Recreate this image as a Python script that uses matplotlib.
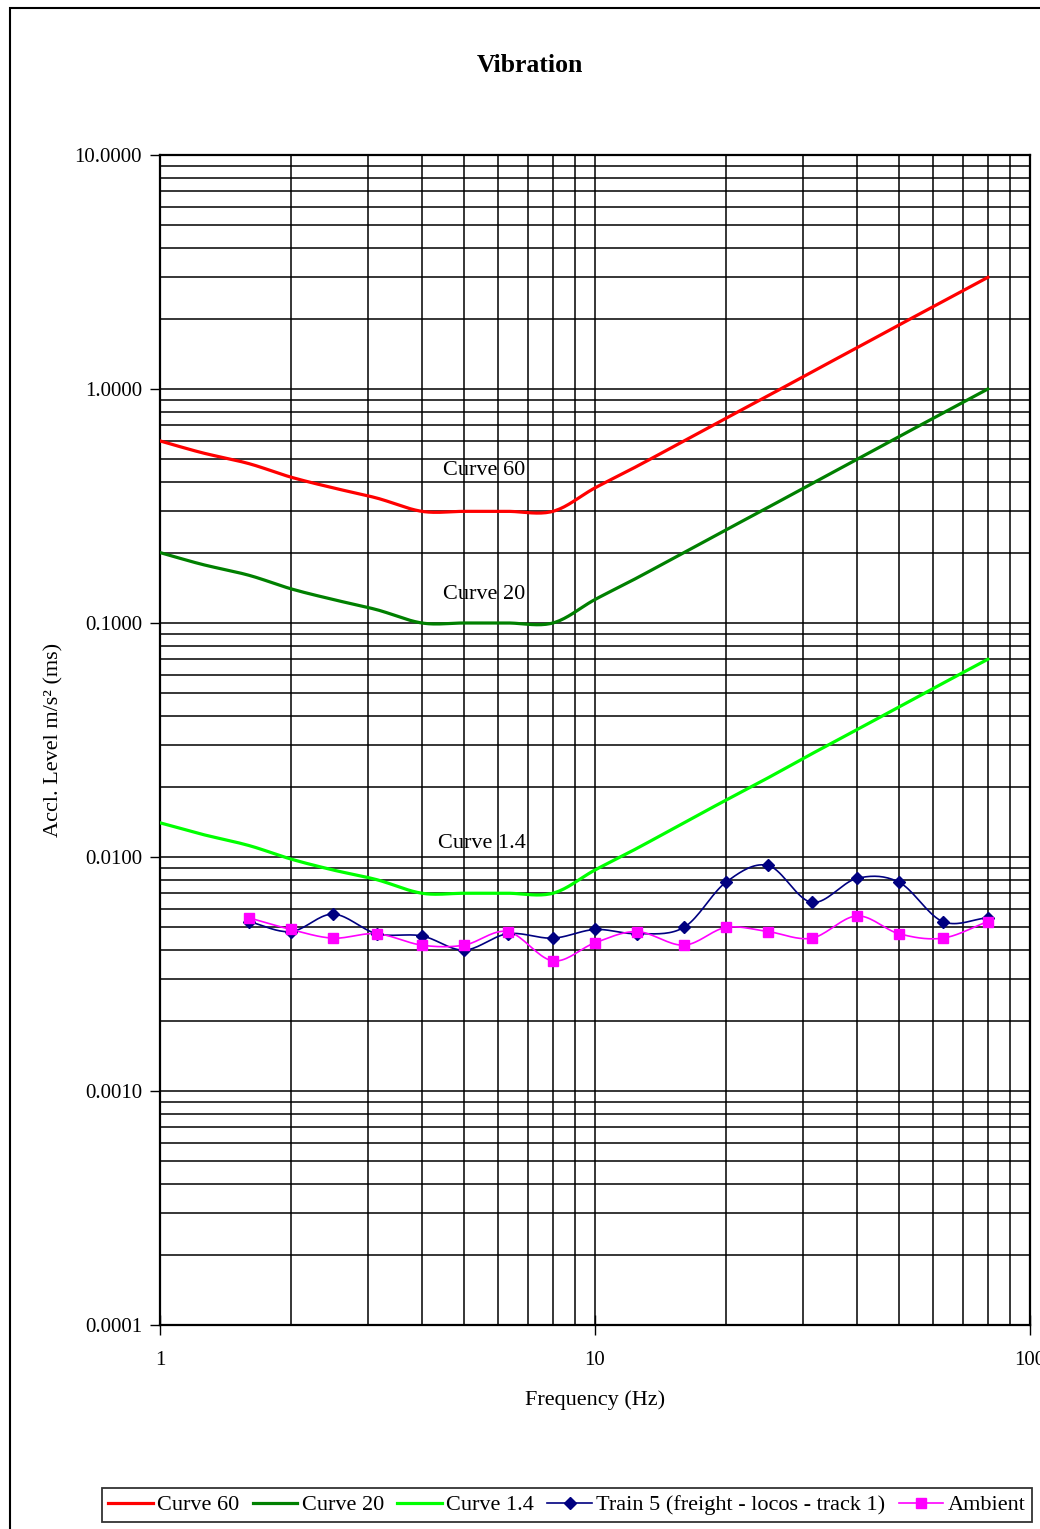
import numpy as np
import matplotlib
matplotlib.use("Agg")
import matplotlib.pyplot as plt
from matplotlib.ticker import LogLocator, FixedLocator, FixedFormatter, FormatStrFormatter, NullFormatter
from matplotlib.patches import Rectangle

plt.rcParams['font.family'] = ['Liberation Serif', 'DejaVu Serif']

# 1/3-octave band frequencies (Hz)
curve_freq = [1, 1.25, 1.6, 2, 2.5, 3.15, 4, 5, 6.3, 8, 10, 12.5, 16, 20, 25, 31.5, 40, 50, 63, 80]
curve_60 = [0.6, 0.534, 0.48, 0.42, 0.378, 0.342, 0.3, 0.3, 0.3, 0.3,
            0.378, 0.468, 0.6, 0.75, 0.936, 1.182, 1.5, 1.878, 2.364, 3.0]
curve_20 = [0.2, 0.178, 0.16, 0.14, 0.126, 0.114, 0.1, 0.1, 0.1, 0.1,
            0.126, 0.156, 0.2, 0.25, 0.312, 0.394, 0.5, 0.626, 0.788, 1.0]
curve_14 = [0.014, 0.0125, 0.0112, 0.0098, 0.0088, 0.008, 0.007, 0.007, 0.007, 0.007,
            0.0088, 0.0109, 0.014, 0.0175, 0.0218, 0.0276, 0.035, 0.0438, 0.0552, 0.07]

meas_freq = [1.6, 2, 2.5, 3.15, 4, 5, 6.3, 8, 10, 12.5, 16, 20, 25, 31.5, 40, 50, 63, 80]
train_5 = [0.0053, 0.0048, 0.0057, 0.0047, 0.0046, 0.0040, 0.0047, 0.0045, 0.0049,
           0.0047, 0.0050, 0.0078, 0.0092, 0.0064, 0.0081, 0.0078, 0.0053, 0.0055]
ambient = [0.0055, 0.0049, 0.0045, 0.0047, 0.0042, 0.0042, 0.0048, 0.0036, 0.0043,
           0.0048, 0.0042, 0.0050, 0.0048, 0.0045, 0.0056, 0.0047, 0.0045, 0.0053]

y_ticks = [0.0001, 0.001, 0.01, 0.1, 1, 10]
x_ticks = [1, 10, 100]


def smooth(x, y, n=20):
    # Catmull-Rom in log-log space, like spreadsheet "smoothed line"
    lx, ly = np.log10(x), np.log10(y)
    px = np.concatenate([[2 * lx[0] - lx[1]], lx, [2 * lx[-1] - lx[-2]]])
    py = np.concatenate([[2 * ly[0] - ly[1]], ly, [2 * ly[-1] - ly[-2]]])
    outx, outy = [], []
    t = np.linspace(0, 1, n)
    for i in range(1, len(px) - 2):
        for arr, out in ((px, outx), (py, outy)):
            p0, p1, p2, p3 = arr[i - 1], arr[i], arr[i + 1], arr[i + 2]
            m1 = (p2 - p0) / 2
            m2 = (p3 - p1) / 2
            h00 = 2 * t**3 - 3 * t**2 + 1
            h10 = t**3 - 2 * t**2 + t
            h01 = -2 * t**3 + 3 * t**2
            h11 = t**3 - t**2
            out.extend(h00 * p1 + h10 * m1 + h01 * p2 + h11 * m2)
    return 10 ** np.array(outx), 10 ** np.array(outy)


fig = plt.figure(figsize=(10.4, 15.29), dpi=100)
fig.patches.append(Rectangle((10 / 1040, -0.1), 1.2, 0.9948 + 0.1, transform=fig.transFigure,
                             fill=False, edgecolor='black', linewidth=1.5))
ax = fig.add_axes([160 / 1040, 1 - 1325 / 1529, 870 / 1040, 1170 / 1529])

ax.set_xscale('log')
ax.set_yscale('log')
ax.set_xlim(1, 100)
ax.set_ylim(0.0001, 10)

for vals, col, name in ((curve_60, '#FF0000', 'Curve 60'),
                        (curve_20, '#008000', 'Curve 20'),
                        (curve_14, '#00FF00', 'Curve 1.4')):
    sx, sy = smooth(curve_freq, vals)
    ax.plot(sx, sy, color=col, lw=2.3, label=name, zorder=4)

sx, sy = smooth(meas_freq, train_5)
ax.plot(sx, sy, color='#000080', lw=1.2, zorder=5)
ax.plot(meas_freq, train_5, ls='none', marker='D', color='#000080', ms=6.5, zorder=6)
ax.plot([], [], color='#000080', lw=1.2, marker='D', ms=6.5, label='Train 5 (freight - locos - track 1)')

sx, sy = smooth(meas_freq, ambient)
ax.plot(sx, sy, color='#FF00FF', lw=1.2, zorder=5)
ax.plot(meas_freq, ambient, ls='none', marker='s', color='#FF00FF', ms=6.5, zorder=6)
ax.plot([], [], color='#FF00FF', lw=1.2, marker='s', ms=6.5, label='Ambient')

ax.text(5.56, 0.45, 'Curve 60', fontsize=16, ha='center', va='center', zorder=7)
ax.text(5.56, 0.133, 'Curve 20', fontsize=16, ha='center', va='center', zorder=7)
ax.text(5.5, 0.0114, 'Curve 1.4', fontsize=16, ha='center', va='center', zorder=7)

ax.xaxis.set_major_locator(FixedLocator(x_ticks))
ax.xaxis.set_major_formatter(FixedFormatter([str(v) for v in x_ticks]))
ax.xaxis.set_minor_locator(LogLocator(base=10, subs=np.arange(2, 10)))
ax.xaxis.set_minor_formatter(NullFormatter())
ax.yaxis.set_major_locator(FixedLocator(y_ticks))
ax.yaxis.set_major_formatter(FormatStrFormatter('%.4f'))
ax.yaxis.set_minor_locator(LogLocator(base=10, subs=np.arange(2, 10), numticks=20))
ax.yaxis.set_minor_formatter(NullFormatter())

ax.grid(True, which='both', color='black', lw=1.1)
ax.tick_params(axis='x', which='major', direction='inout', length=14, width=1, pad=12, labelsize=15)
ax.tick_params(axis='y', which='major', direction='out', length=7, width=1, pad=6, labelsize=15)
ax.tick_params(which='minor', length=0)
for s in ax.spines.values():
    s.set_linewidth(1.6)

ax.set_xlabel('Frequency (Hz)', fontsize=16, labelpad=14)
ax.set_ylabel('Accl. Level m/s\u00b2 (ms)', fontsize=16, labelpad=8)
fig.text(530 / 1040, 1 - 65 / 1529, 'Vibration', fontsize=18.5, fontweight='bold', ha='center', va='center')

leg = fig.legend(loc='center', bbox_to_anchor=(567 / 1040, 1 - 1505 / 1529), ncol=5, fontsize=16,
                 frameon=True, fancybox=False, edgecolor='black', handlelength=2.0,
                 handletextpad=0.2, columnspacing=0.6, borderpad=0.3)
leg.get_frame().set_linewidth(1.3)

fig.savefig('out.png', dpi=100)
